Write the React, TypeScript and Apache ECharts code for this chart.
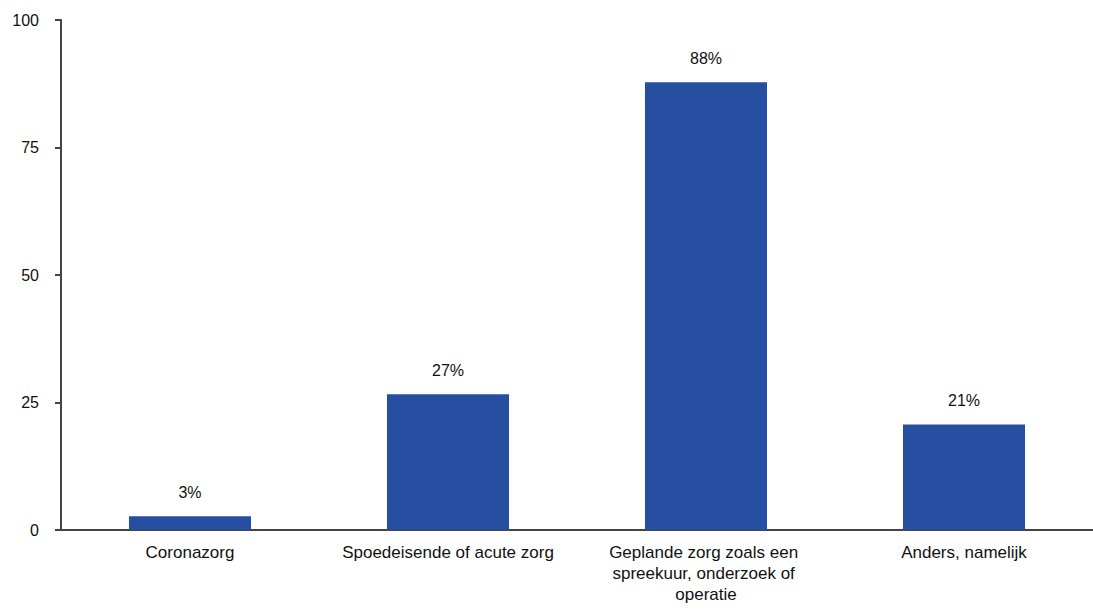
import React, { useEffect, useRef } from "react";
import * as echarts from "echarts";

const categories = [
  "Coronazorg",
  "Spoedeisende of acute zorg",
  "Geplande zorg zoals een spreekuur, onderzoek of operatie",
  "Anders, namelijk",
];
const values = [2.7, 26.6, 87.8, 20.7];
const valueLabels = ["3%", "27%", "88%", "21%"];
const yTicks = [0, 25, 50, 75, 100];

export default function App() {
  const ref = useRef<HTMLDivElement>(null);
  useEffect(() => {
    if (!ref.current) return;
    const chart = echarts.init(ref.current, undefined, { renderer: "svg" });
    const font = "Liberation Sans, Arial, Helvetica, sans-serif";
    chart.setOption({
      animation: false,
      grid: { left: 61, right: -8, top: 20, bottom: 80, containLabel: false },
      xAxis: {
        type: "category",
        data: categories,
        axisLine: { lineStyle: { color: "#444", width: 2 } },
        axisTick: { alignWithLabel: true, length: 6, lineStyle: { color: "#444", width: 2 } },
        axisLabel: {
          color: "#111",
          fontSize: 17,
          fontFamily: font,
          margin: 12,
          lineHeight: 21,
          width: 232,
          overflow: "break",
          interval: 0,
          align: "center",
        },
      },
      yAxis: {
        type: "value",
        min: yTicks[0],
        max: yTicks[yTicks.length - 1],
        interval: 25,
        splitLine: { show: false },
        axisLine: { show: true, lineStyle: { color: "#444", width: 2 } },
        axisTick: { show: true, length: 6, lineStyle: { color: "#444", width: 2 } },
        axisLabel: { color: "#111", fontSize: 16, fontFamily: font, margin: 22 },
      },
      series: [
        {
          type: "bar",
          data: values,
          barWidth: "47.3%",
          itemStyle: { color: "#264fa2" },
          label: {
            show: true,
            position: "top",
            distance: 16,
            color: "#111",
            fontSize: 16,
            fontFamily: font,
            formatter: (p: any) => valueLabels[p.dataIndex],
          },
        },
      ],
    });
    return () => chart.dispose();
  }, []);
  return <div ref={ref} style={{ width: 1093, height: 610, position: "absolute", left: 0, top: 0 }} />;
}
